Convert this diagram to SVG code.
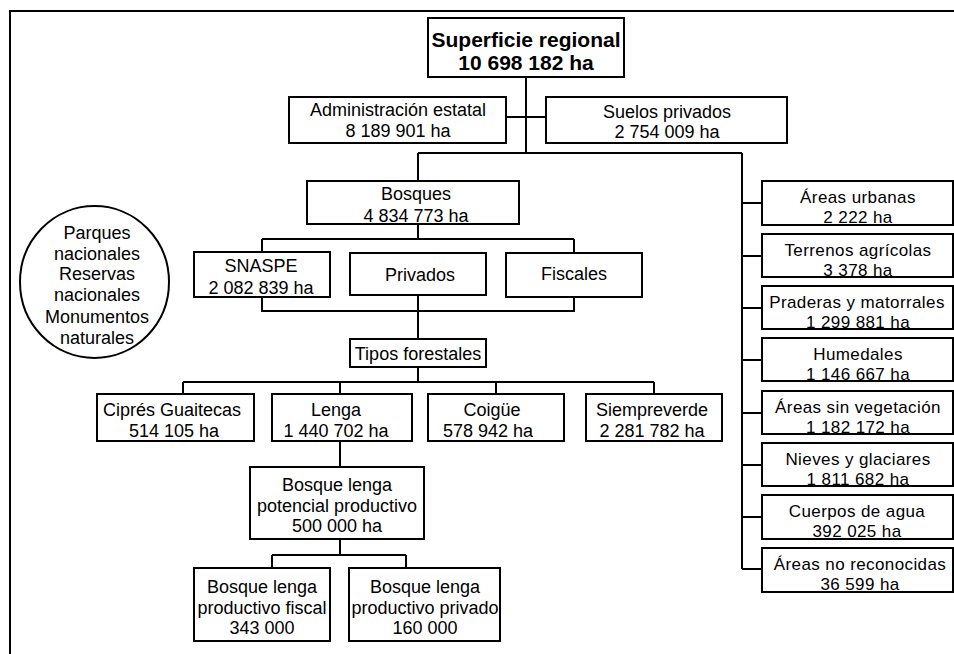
<svg xmlns="http://www.w3.org/2000/svg" width="954" height="654" viewBox="0 0 954 654">
<style>
.b{fill:#fff;stroke:#000;stroke-width:2}
.t{font-family:"Liberation Sans",Arial,sans-serif;font-size:18px;fill:#000;text-anchor:middle}
.r{font-family:"Liberation Sans",Arial,sans-serif;font-size:17px;letter-spacing:0.4px;fill:#000;text-anchor:middle}
.tb{font-family:"Liberation Sans",Arial,sans-serif;font-size:21px;font-weight:bold;fill:#000;text-anchor:middle}
.c{fill:none;stroke:#000;stroke-width:2}
</style>
<rect x="0" y="0" width="954" height="654" fill="#fff"/>
<rect x="10" y="11" width="970" height="680" fill="none" stroke="#000" stroke-width="2"/>
<g id="connectors" class="c">
<path d="M526 77V153M506 117H546M418 153H742M418 153V181M742 153V569"/>
<path d="M742 203H762M742 256H762M742 308H762M742 360H762M742 413H762M742 465H762M742 517H762M742 569H762"/>
<path d="M418 224V239M262 239H574M262 239V252M574 239V253M262 297V311H574V297M418 295V339"/>
<path d="M418 367V382M183 382H654M183 382V394M340 382V394M496 382V394M654 382V394"/>
<path d="M340 441V467M340 539V555M272 555H406M272 555V568M406 555V568"/>
</g>
<g id="superficie"><rect class="b" x="428" y="18" width="196" height="59"/><text class="tb" x="526" y="47">Superficie regional</text><text class="tb" x="526" y="70">10 698 182 ha</text></g>
<g id="admin"><rect class="b" x="289" y="97" width="217" height="46"/><text class="t" x="398" y="116">Administración estatal</text><text class="t" x="398" y="137">8 189 901 ha</text></g>
<g id="suelos"><rect class="b" x="546" y="97" width="241" height="46"/><text class="t" x="667" y="118">Suelos privados</text><text class="t" x="667" y="138">2 754 009 ha</text></g>
<g id="bosques"><rect class="b" x="307" y="181" width="212" height="43"/><text class="t" x="416" y="200">Bosques</text><text class="t" x="416" y="222">4 834 773 ha</text></g>
<g id="snaspe"><rect class="b" x="194" y="252" width="136" height="45"/><text class="t" x="261" y="272">SNASPE</text><text class="t" x="261" y="294">2 082 839 ha</text></g>
<g id="privados"><rect class="b" x="350" y="253" width="136" height="42"/><text class="t" x="420" y="281">Privados</text></g>
<g id="fiscales"><rect class="b" x="506" y="253" width="136" height="44"/><text class="t" x="574" y="280">Fiscales</text></g>
<g id="areas-protegidas"><ellipse cx="94.5" cy="282" rx="74.5" ry="76" fill="none" stroke="#000" stroke-width="2"/>
<text class="t" x="97" y="239">Parques</text><text class="t" x="97" y="260">nacionales</text><text class="t" x="97" y="280">Reservas</text><text class="t" x="97" y="301">nacionales</text><text class="t" x="97" y="323">Monumentos</text><text class="t" x="97" y="344">naturales</text></g>
<g id="tipos"><rect class="b" x="350" y="339" width="136" height="28"/><text class="t" x="418" y="360">Tipos forestales</text></g>
<g id="cipres"><rect class="b" x="97" y="394" width="157" height="47"/><text class="t" x="172" y="416">Ciprés Guaitecas</text><text class="t" x="174" y="437">514 105 ha</text></g>
<g id="lenga"><rect class="b" x="272" y="394" width="140" height="47"/><text class="t" x="336" y="416">Lenga</text><text class="t" x="336" y="437">1 440 702 ha</text></g>
<g id="coigue"><rect class="b" x="428" y="394" width="136" height="47"/><text class="t" x="492" y="416">Coigüe</text><text class="t" x="488" y="437">578 942 ha</text></g>
<g id="siempreverde"><rect class="b" x="586" y="394" width="136" height="47"/><text class="t" x="652" y="416">Siempreverde</text><text class="t" x="652" y="437">2 281 782 ha</text></g>
<g id="potencial"><rect class="b" x="250" y="467" width="174" height="72"/><text class="t" x="337" y="491">Bosque lenga</text><text class="t" x="337" y="512">potencial productivo</text><text class="t" x="337" y="532">500 000 ha</text></g>
<g id="prod-fiscal"><rect class="b" x="194" y="568" width="136" height="73"/><text class="t" x="262" y="593">Bosque lenga</text><text class="t" x="262" y="614">productivo fiscal</text><text class="t" x="262" y="634">343 000</text></g>
<g id="prod-privado"><rect class="b" x="349" y="568" width="151" height="73"/><text class="t" x="425" y="593">Bosque lenga</text><text class="t" x="425" y="614">productivo privado</text><text class="t" x="425" y="634">160 000</text></g>
<g id="urbanas"><rect class="b" x="762" y="181" width="191" height="44"/><text class="r" x="858" y="203">Áreas urbanas</text><text class="r" x="858" y="223">2 222 ha</text></g>
<g id="agricolas"><rect class="b" x="762" y="234" width="191" height="43"/><text class="r" x="858" y="256">Terrenos agrícolas</text><text class="r" x="858" y="276">3 378 ha</text></g>
<g id="praderas"><rect class="b" x="762" y="286" width="191" height="43"/><text class="r" x="857" y="308">Praderas y matorrales</text><text class="r" x="858" y="328">1 299 881 ha</text></g>
<g id="humedales"><rect class="b" x="762" y="338" width="191" height="43"/><text class="r" x="858" y="360">Humedales</text><text class="r" x="858" y="380">1 146 667 ha</text></g>
<g id="sinveg"><rect class="b" x="762" y="391" width="191" height="43"/><text class="r" x="858" y="413">Áreas sin vegetación</text><text class="r" x="858" y="433">1 182 172 ha</text></g>
<g id="nieves"><rect class="b" x="762" y="443" width="191" height="43"/><text class="r" x="858" y="465">Nieves y glaciares</text><text class="r" x="858" y="485">1 811 682 ha</text></g>
<g id="agua"><rect class="b" x="762" y="495" width="191" height="44"/><text class="r" x="857" y="517">Cuerpos de agua</text><text class="r" x="857" y="537">392 025 ha</text></g>
<g id="noreconocidas"><rect class="b" x="762" y="548" width="191" height="44"/><text class="r" x="860" y="570">Áreas no reconocidas</text><text class="r" x="860" y="590">36 599 ha</text></g>
</svg>
